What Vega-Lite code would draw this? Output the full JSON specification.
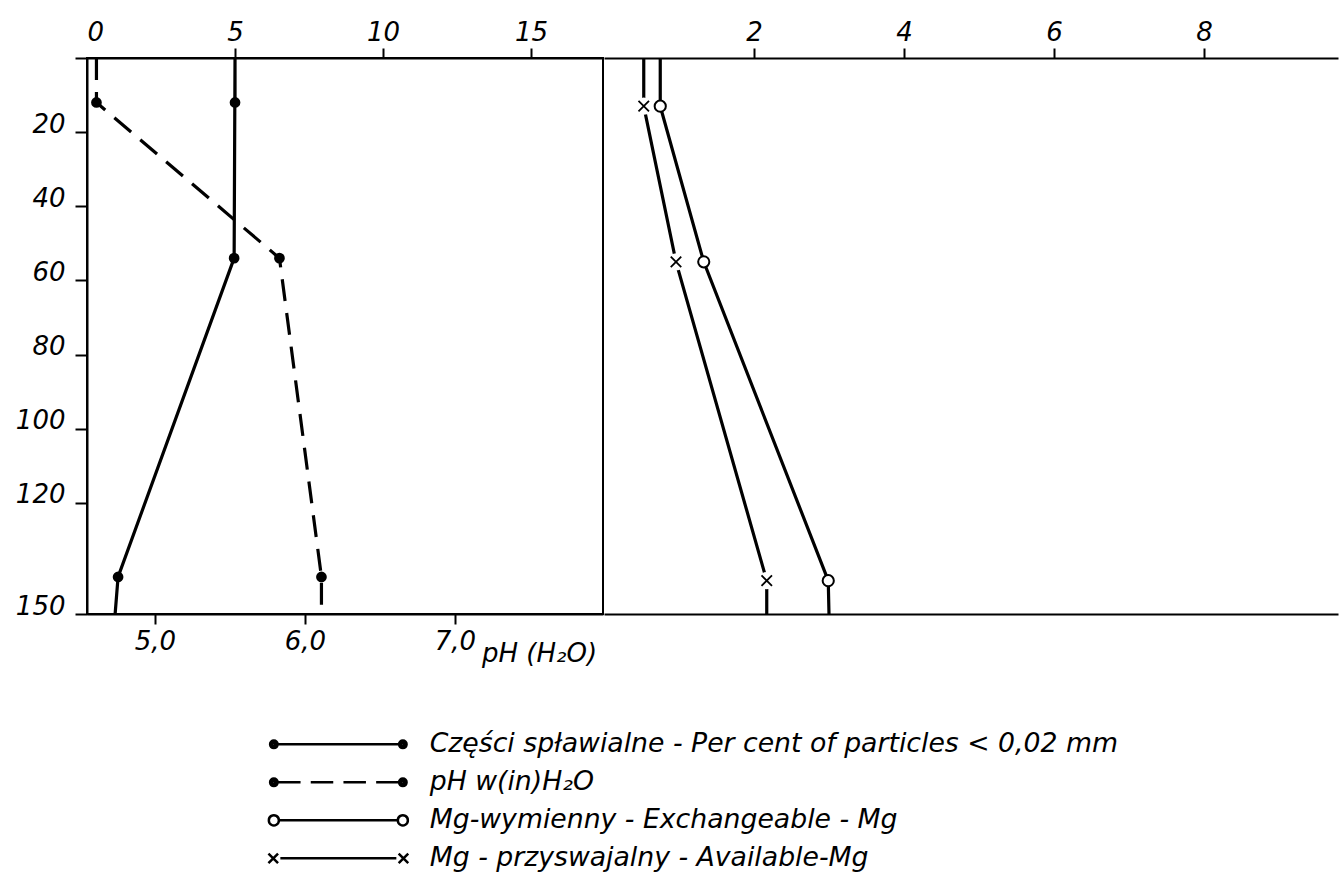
{
  "$schema": "https://vega.github.io/schema/vega-lite/v6.json",
  "background": "white",
  "padding": {"left": 14, "top": 18, "right": 5, "bottom": 5},
  "spacing": 0,
  "config": {
    "font": "DejaVu Sans",
    "view": {"stroke": null},
    "axis": {
      "domainColor": "black", "tickColor": "black", "labelColor": "black", "titleColor": "black",
      "domainWidth": 2, "tickWidth": 2, "grid": false,
      "labelFont": "DejaVu Sans", "labelFontStyle": "italic", "labelFontSize": 26,
      "titleFont": "DejaVu Sans", "titleFontStyle": "italic", "titleFontWeight": "normal", "titleFontSize": 26
    }
  },
  "datasets": {
    "left": [
      {"series": "Części spławialne - Per cent of particles < 0,02 mm", "depth": 0, "value": 5.0, "sampled": false},
      {"series": "Części spławialne - Per cent of particles < 0,02 mm", "depth": 12, "value": 5.0, "sampled": true},
      {"series": "Części spławialne - Per cent of particles < 0,02 mm", "depth": 54, "value": 4.97, "sampled": true},
      {"series": "Części spławialne - Per cent of particles < 0,02 mm", "depth": 140, "value": 1.05, "sampled": true},
      {"series": "Części spławialne - Per cent of particles < 0,02 mm", "depth": 150, "value": 0.95, "sampled": false},
      {"series": "pH w(in)H₂O", "depth": 0, "value": 4.61, "sampled": false},
      {"series": "pH w(in)H₂O", "depth": 12, "value": 4.61, "sampled": true},
      {"series": "pH w(in)H₂O", "depth": 54, "value": 5.83, "sampled": true},
      {"series": "pH w(in)H₂O", "depth": 140, "value": 6.11, "sampled": true},
      {"series": "pH w(in)H₂O", "depth": 150, "value": 6.11, "sampled": false}
    ],
    "right": [
      {"series": "Mg-wymienny - Exchangeable - Mg", "depth": 0, "value": 0.75, "sampled": false},
      {"series": "Mg-wymienny - Exchangeable - Mg", "depth": 13, "value": 0.75, "sampled": true},
      {"series": "Mg-wymienny - Exchangeable - Mg", "depth": 55, "value": 1.33, "sampled": true},
      {"series": "Mg-wymienny - Exchangeable - Mg", "depth": 141, "value": 2.99, "sampled": true},
      {"series": "Mg-wymienny - Exchangeable - Mg", "depth": 150, "value": 3.0, "sampled": false},
      {"series": "Mg - przyswajalny - Available-Mg", "depth": 0, "value": 0.53, "sampled": false},
      {"series": "Mg - przyswajalny - Available-Mg", "depth": 13, "value": 0.53, "sampled": true},
      {"series": "Mg - przyswajalny - Available-Mg", "depth": 55, "value": 0.96, "sampled": true},
      {"series": "Mg - przyswajalny - Available-Mg", "depth": 141, "value": 2.17, "sampled": true},
      {"series": "Mg - przyswajalny - Available-Mg", "depth": 150, "value": 2.17, "sampled": false}
    ]
  },
  "hconcat": [
    {
      "width": 516,
      "height": 556,
      "view": {"stroke": "black", "strokeWidth": 2},
      "data": {"name": "left"},
      "encoding": {
        "y": {
          "field": "depth", "type": "quantitative",
          "scale": {"domain": [0, 150], "reverse": true, "nice": false, "zero": false},
          "axis": {
            "values": [0, 20, 40, 60, 80, 100, 120, 150],
            "labelExpr": "datum.value == 0 ? '' : datum.label",
            "labelBaseline": "alphabetic", "tickSize": 12, "labelPadding": 10, "title": null
          }
        }
      },
      "layer": [
        {
          "transform": [{"filter": "indexof(datum.series, 'Części') >= 0"}],
          "encoding": {
            "x": {
              "field": "value", "type": "quantitative",
              "scale": {"domain": [0, 17.43], "nice": false, "zero": false},
              "axis": {
                "orient": "top", "values": [0, 5, 10, 15], "title": null,
                "tickSize": 10, "labelPadding": 3,
                "tickOpacity": {"condition": {"test": "datum.value == 0", "value": 0}, "value": 1}
              }
            }
          },
          "layer": [
            {"mark": {"type": "line", "color": "black", "strokeWidth": 3.2}},
            {
              "transform": [{"filter": "datum.sampled"}],
              "mark": {"type": "point", "shape": "circle", "filled": true, "color": "black", "size": 115, "opacity": 1}
            }
          ]
        },
        {
          "transform": [{"filter": "indexof(datum.series, 'pH') >= 0"}],
          "encoding": {
            "x": {
              "field": "value", "type": "quantitative",
              "scale": {"domain": [4.547, 7.987], "nice": false, "zero": false},
              "axis": {
                "orient": "bottom", "values": [5, 6, 7],
                "labelExpr": "replace(format(datum.value, '.1f'), '.', ',')",
                "tickSize": 10, "labelPadding": 4,
                "title": "pH (H₂O)", "titleX": 452, "titleY": 47,
                "titleAlign": "center", "titleBaseline": "alphabetic"
              }
            }
          },
          "layer": [
            {"mark": {"type": "line", "color": "black", "strokeWidth": 3.2, "strokeDash": [22, 12]}},
            {
              "transform": [{"filter": "datum.sampled"}],
              "mark": {"type": "point", "shape": "circle", "filled": true, "color": "black", "size": 115, "opacity": 1}
            }
          ]
        }
      ],
      "resolve": {"scale": {"x": "independent"}, "axis": {"x": "independent"}}
    },
    {
      "width": 734,
      "height": 556,
      "data": {"name": "right"},
      "encoding": {
        "y": {
          "field": "depth", "type": "quantitative",
          "scale": {"domain": [0, 150], "reverse": true, "nice": false, "zero": false},
          "axis": null
        }
      },
      "layer": [
        {
          "mark": {"type": "line", "color": "black", "strokeWidth": 3.2},
          "encoding": {
            "x": {
              "field": "value", "type": "quantitative",
              "scale": {"domain": [0, 9.787], "nice": false, "zero": false},
              "axis": {"orient": "top", "values": [2, 4, 6, 8], "title": null, "tickSize": 10, "labelPadding": 3}
            },
            "detail": {"field": "series"}
          }
        },
        {
          "transform": [{"filter": "datum.sampled"}],
          "encoding": {
            "x": {
              "field": "value", "type": "quantitative",
              "axis": {"orient": "bottom", "values": [], "labels": false, "ticks": false, "title": null}
            }
          },
          "layer": [
            {
              "transform": [{"filter": "indexof(datum.series, 'przyswajalny') >= 0"}],
              "mark": {"type": "point", "shape": "circle", "filled": true, "color": "white", "size": 300, "opacity": 1}
            },
            {
              "transform": [{"filter": "indexof(datum.series, 'przyswajalny') >= 0"}],
              "mark": {"type": "point", "shape": "M-1,-1L1,1M-1,1L1,-1", "filled": false, "color": "black", "strokeWidth": 1.8, "size": 110, "opacity": 1}
            },
            {
              "transform": [{"filter": "indexof(datum.series, 'wymienny') >= 0"}],
              "mark": {"type": "point", "shape": "circle", "filled": false, "fill": "white", "stroke": "black", "strokeWidth": 2, "size": 125, "opacity": 1, "fillOpacity": 1}
            }
          ]
        },
        {
          "data": {"name": "legendsrc", "values": [
            {"series": "Części spławialne - Per cent of particles < 0,02 mm"},
            {"series": "pH w(in)H₂O"},
            {"series": "Mg-wymienny - Exchangeable - Mg"},
            {"series": "Mg - przyswajalny - Available-Mg"}
          ]},
          "mark": {"type": "point", "filled": false, "color": "black", "strokeWidth": 2.5, "opacity": 0},
          "encoding": {
            "shape": {
              "field": "series", "type": "nominal",
              "scale": {
                "domain": [
                  "Części spławialne - Per cent of particles < 0,02 mm",
                  "pH w(in)H₂O",
                  "Mg-wymienny - Exchangeable - Mg",
                  "Mg - przyswajalny - Available-Mg"
                ],
                "range": [
                  "M-22.75,0a1.25,1.25 0 1,0 2.5,0a1.25,1.25 0 1,0 -2.5,0ZM-22,0a0.5,0.5 0 1,0 1,0a0.5,0.5 0 1,0 -1,0ZM-20.25,0H20.25M20.25,0a1.25,1.25 0 1,0 2.5,0a1.25,1.25 0 1,0 -2.5,0ZM21,0a0.5,0.5 0 1,0 1,0a0.5,0.5 0 1,0 -1,0Z",
                  "M-22.75,0a1.25,1.25 0 1,0 2.5,0a1.25,1.25 0 1,0 -2.5,0ZM-22,0a0.5,0.5 0 1,0 1,0a0.5,0.5 0 1,0 -1,0ZM-20.25,0H-12.6M-9.2,0H-1.7M1.7,0H9.2M12.6,0H20.25M20.25,0a1.25,1.25 0 1,0 2.5,0a1.25,1.25 0 1,0 -2.5,0ZM21,0a0.5,0.5 0 1,0 1,0a0.5,0.5 0 1,0 -1,0Z",
                  "M-23.167,0a1.667,1.667 0 1,0 3.333,0a1.667,1.667 0 1,0 -3.333,0ZM-19.833,0H19.833M19.833,0a1.667,1.667 0 1,0 3.333,0a1.667,1.667 0 1,0 -3.333,0Z",
                  "M-23.3,-1.6L-20.1,1.6M-23.3,1.6L-20.1,-1.6M-19.333,0H19.333M20.1,-1.6L23.3,1.6M20.1,1.6L23.3,-1.6"
                ]
              },
              "legend": {
                "orient": "none", "legendX": 238, "legendY": 673,
                "title": null, "padding": 0,
                "symbolSize": 36, "symbolStrokeWidth": 2.5, "symbolStrokeColor": "black",
                "labelFont": "DejaVu Sans", "labelFontStyle": "italic", "labelFontSize": 26.7,
                "labelColor": "black", "labelLimit": 0, "labelOffset": 78, "rowPadding": 10,
                "encode": {
                  "symbols": {
                    "update": {
                      "opacity": {"value": 1},
                      "stroke": {"value": "black"},
                      "strokeWidth": {"value": 2.5}
                    }
                  }
                }
              }
            }
          }
        }
      ],
      "resolve": {"axis": {"x": "independent"}}
    }
  ]
}
